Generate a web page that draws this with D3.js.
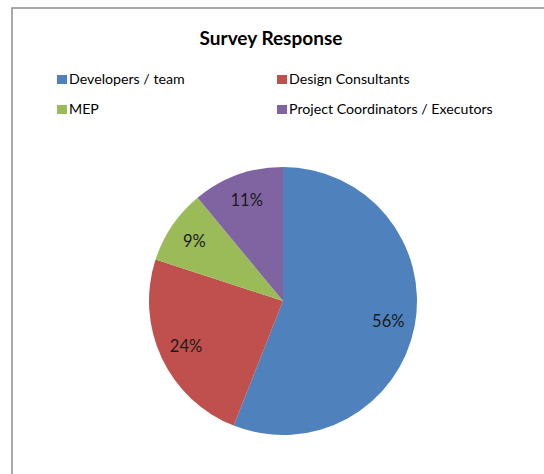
<!DOCTYPE html>
<html><head><meta charset="utf-8">
<script src="https://cdn.jsdelivr.net/npm/d3@7"></script>
<style>html,body{margin:0;padding:0;background:#fff;}svg{display:block;}</style>
</head><body>
<div id="chart"></div>
<script>
const title = "Survey Response";
const categories = ["Developers / team", "Design Consultants", "MEP", "Project Coordinators / Executors"];
const values = [56, 24, 9, 11];
const colors = ["#4F81BD", "#C0504D", "#9BBB59", "#8064A2"];

const W = 544, H = 474;
const font = "Lato, 'Open Sans', sans-serif";
const svg = d3.select("#chart").append("svg").attr("width", W).attr("height", H);

svg.append("rect").attr("x", 12).attr("y", 8).attr("width", W + 20).attr("height", H + 20)
  .attr("fill", "#fff").attr("stroke", "#8c8c8c").attr("stroke-width", 1.5);

svg.append("text").attr("x", 271).attr("y", 45).attr("text-anchor", "middle")
  .attr("font-family", font).attr("font-weight", "bold").attr("font-size", 19)
  .attr("fill", "#000").text(title);

const legendX = [57, 277], legendY = [79, 109];
const lg = svg.append("g");
categories.forEach((c, i) => {
  const x = legendX[i % 2], y = legendY[Math.floor(i / 2)];
  lg.append("rect").attr("x", x).attr("y", y - 4).attr("width", 10).attr("height", 9).attr("fill", colors[i]);
  lg.append("text").attr("x", x + 12).attr("y", y + 5).attr("font-family", font)
    .attr("font-size", 14.2).attr("fill", "#000").text(c);
});

const cx = 283, cy = 301, r = 134;
const pie = d3.pie().sort(null).value(d => d)(values);
const arc = d3.arc().innerRadius(0).outerRadius(r);
const labelArc = d3.arc().innerRadius(r * 0.8).outerRadius(r * 0.8);
const g = svg.append("g").attr("transform", `translate(${cx},${cy})`);
g.selectAll("path").data(pie).join("path").attr("d", arc).attr("fill", (d, i) => colors[i]);
const total = d3.sum(values);
g.selectAll("text").data(pie).join("text")
  .attr("transform", d => `translate(${labelArc.centroid(d)})`)
  .attr("text-anchor", "middle").attr("dy", "0.35em")
  .attr("font-family", font).attr("font-size", 16.5).attr("fill", "#1a1a1a")
  .text(d => Math.round(d.data / total * 100) + "%");
</script>
</body></html>
